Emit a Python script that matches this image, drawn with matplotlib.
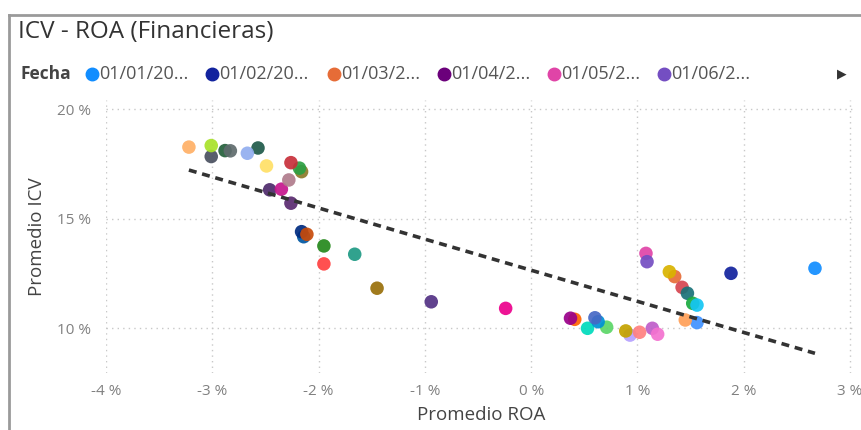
import matplotlib.pyplot as plt
import numpy as np
from matplotlib.lines import Line2D
from matplotlib.ticker import FuncFormatter

plt.rcParams['font.family'] = ['Open Sans', 'DejaVu Sans']

# promedio ROA / ICV (%) por fecha, en orden de dibujo
roa = [2.67, 1.88, 1.35, 1.08, 1.09, 1.30, 1.42, 1.47, 1.52, 1.56,
       1.56, 1.45, 1.14, 1.19, 0.93, 0.89, 1.02, 0.53, 0.71, 0.63,
       0.60, 0.41, 0.37, -0.24, -0.94, -1.45, -1.95, -1.66, -1.95, -2.14,
       -2.16, -2.11, -2.26, -2.46, -2.35, -2.28, -2.16, -2.18, -2.26, -2.49,
       -2.57, -2.67, -2.88, -2.83, -3.01, -3.01, -3.22]
icv = [12.74, 12.51, 12.36, 13.42, 13.04, 12.58, 11.87, 11.60, 11.14, 11.06,
       10.26, 10.38, 10.00, 9.73, 9.69, 9.88, 9.82, 10.00, 10.05, 10.30,
       10.48, 10.41, 10.46, 10.91, 11.21, 11.83, 12.94, 13.38, 13.76, 14.18,
       14.41, 14.29, 15.71, 16.32, 16.35, 16.77, 17.15, 17.31, 17.56, 17.41,
       18.23, 17.99, 18.11, 18.10, 17.84, 18.34, 18.27]
colores = ['#118DFF', '#12239E', '#E66C37', '#E044A7', '#744EC2', '#D9B300',
           '#D64550', '#197278', '#1AAB40', '#15C6F4', '#4092FF', '#FFA058',
           '#BE5DC9', '#F472D0', '#B5A1FF', '#C4A200', '#FF8080', '#00DBBC',
           '#5BD667', '#0091D5', '#4668C5', '#FF6300', '#99008A', '#EC008C',
           '#533285', '#99700A', '#FF4141', '#1F9A85', '#25891C', '#0057A2',
           '#002B80', '#C84B0A', '#5A2A70', '#4E2A6B', '#C6168D', '#B07C8C',
           '#8C7A2A', '#2CA043', '#C8303A', '#FFE066', '#1F5A4A', '#92AEEF',
           '#245F3A', '#5F6B6D', '#4A5060', '#A8E22A', '#FFB066']

leyenda = ['01/01/20...', '01/02/20...', '01/03/2...', '01/04/2...',
           '01/05/2...', '01/06/2...']
leyenda_col = ['#118DFF', '#12239E', '#E66C37', '#6B007B', '#E044A7', '#744EC2']

W, H = 861, 430
fig = plt.figure(figsize=(W / 100, H / 100), dpi=100)
ax = fig.add_axes([106 / W, 1 - 373 / H, 750 / W, 273 / H])

x = np.array(roa)
y = np.array(icv)
ax.scatter(x, y, s=95, c=colores, alpha=0.92, linewidths=0, zorder=3)

# linea de tendencia
m, b = np.polyfit(x, y, 1)
xs = np.array([x.min(), x.max()])
ax.plot(xs, m * xs + b, color='#333333', lw=2.6, ls=(0, (2.2, 1.6)), zorder=4)

ax.set_xlim(-4.0, 3.056)
ax.set_ylim(7.96, 20.42)
ax.set_xticks(range(-4, 4))
ax.set_yticks([10, 15, 20])
fmt = FuncFormatter(lambda v, p: '%d %%' % v)
ax.xaxis.set_major_formatter(fmt)
ax.yaxis.set_major_formatter(fmt)
ax.tick_params(length=0, labelsize=11, labelcolor='#808080')
ax.tick_params(axis='x', pad=8)
ax.tick_params(axis='y', pad=11)
ax.grid(True, color='#c8c8c8', ls=(0, (1, 3)), lw=1)
for s in ax.spines.values():
    s.set_visible(False)

ax.set_xlabel('Promedio ROA', fontsize=13.5, color='#444444', labelpad=5)
ax.set_ylabel('Promedio ICV', fontsize=13.5, color='#444444', labelpad=8)

fig.text(18 / W, 1 - 32 / H, 'ICV - ROA (Financieras)', fontsize=17.5,
         color='#333333', va='center')

# leyenda
ly = 1 - 74 / H
fig.text(20 / W, ly, 'Fecha', fontsize=12.5, fontweight='bold',
         color='#444444', va='center')
pos = [92, 212, 334, 444, 554, 664]
for px, txt, col in zip(pos, leyenda, leyenda_col):
    fig.add_artist(Line2D([px / W], [ly], marker='o', ms=9, color=col,
                          mec=col, transform=fig.transFigure))
    fig.text((px + 7) / W, ly, txt, fontsize=13, color='#555555',
             va='center')
fig.text(842 / W, ly, '\u25B6', fontsize=9, color='#333333', va='center',
         ha='center', family='DejaVu Sans')

# marco
fig.add_artist(Line2D([9 / W, 9 / W], [0, 1 - 15 / H], color='#9a9a9a', lw=2,
                      transform=fig.transFigure))
fig.add_artist(Line2D([9 / W, 1], [1 - 15 / H, 1 - 15 / H], color='#9a9a9a',
                      lw=2, transform=fig.transFigure))

fig.savefig('out.png', dpi=100)
